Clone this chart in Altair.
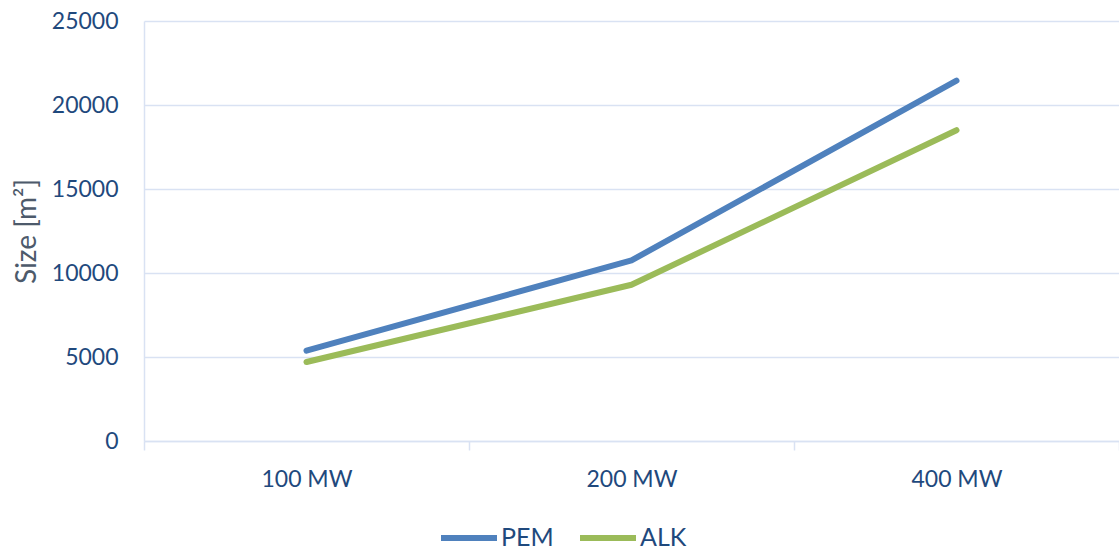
import altair as alt
import pandas as pd

# Electrolyser plant footprint by installed capacity
capacity = ["100 MW", "200 MW", "400 MW"]
pem_size = [5375, 10750, 21450]
alk_size = [4700, 9300, 18500]

series_names = ["PEM", "ALK"]
series_colors = ["#4F81BD", "#9BBB59"]

rows = []
for cap, p, a in zip(capacity, pem_size, alk_size):
    rows.append({"capacity": cap, "technology": "PEM", "size": p})
    rows.append({"capacity": cap, "technology": "ALK", "size": a})
df = pd.DataFrame(rows)

FONT = "Lato"
LABEL = "#1F497D"
GRID = "#D9E2F3"

chart = (
    alt.Chart(df)
    .mark_line(strokeWidth=6, strokeCap="round", strokeJoin="round")
    .encode(
        x=alt.X(
            "capacity:N",
            sort=capacity,
            scale=alt.Scale(paddingInner=0, paddingOuter=0),
            axis=alt.Axis(
                title=None,
                labelAngle=0,
                labelFontSize=23,
                labelColor=LABEL,
                labelFont=FONT,
                labelPadding=18,
                tickBand="extent",
                tickColor=GRID,
                tickWidth=1.5,
                tickSize=9,
                domainColor=GRID,
                domainWidth=1.5,
                grid=False,
            ),
        ),
        y=alt.Y(
            "size:Q",
            scale=alt.Scale(domain=[0, 25000], nice=False),
            axis=alt.Axis(
                title="Size [m²]",
                values=[0, 5000, 10000, 15000, 20000, 25000],
                format="d",
                labelFontSize=23,
                labelColor=LABEL,
                labelFont=FONT,
                labelPadding=26,
                ticks=False,
                domainColor=GRID,
                domainWidth=1.5,
                gridColor=GRID,
                gridWidth=1.5,
                titleFontSize=28,
                titleFont=FONT,
                titleFontWeight="normal",
                titleColor="#4D5A6B",
                titlePadding=10,
            ),
        ),
        color=alt.Color(
            "technology:N",
            sort=series_names,
            scale=alt.Scale(domain=series_names, range=series_colors),
            legend=alt.Legend(
                title=None,
                orient="none",
                legendX=294,
                legendY=486,
                direction="horizontal",
                symbolType="stroke",
                symbolSize=3136,
                symbolStrokeWidth=6,
                labelFontSize=25,
                labelFont=FONT,
                labelColor=LABEL,
                labelOffset=1,
                columnPadding=14,
            ),
        ),
    )
    .properties(
        width=975,
        height=420,
        padding={"left": 144, "top": 21, "right": 0, "bottom": 110},
        autosize=alt.AutoSizeParams(type="none"),
    )
    .configure_view(stroke=None)
)

chart.save("out.html", embed_options={"renderer": "svg", "actions": False})
